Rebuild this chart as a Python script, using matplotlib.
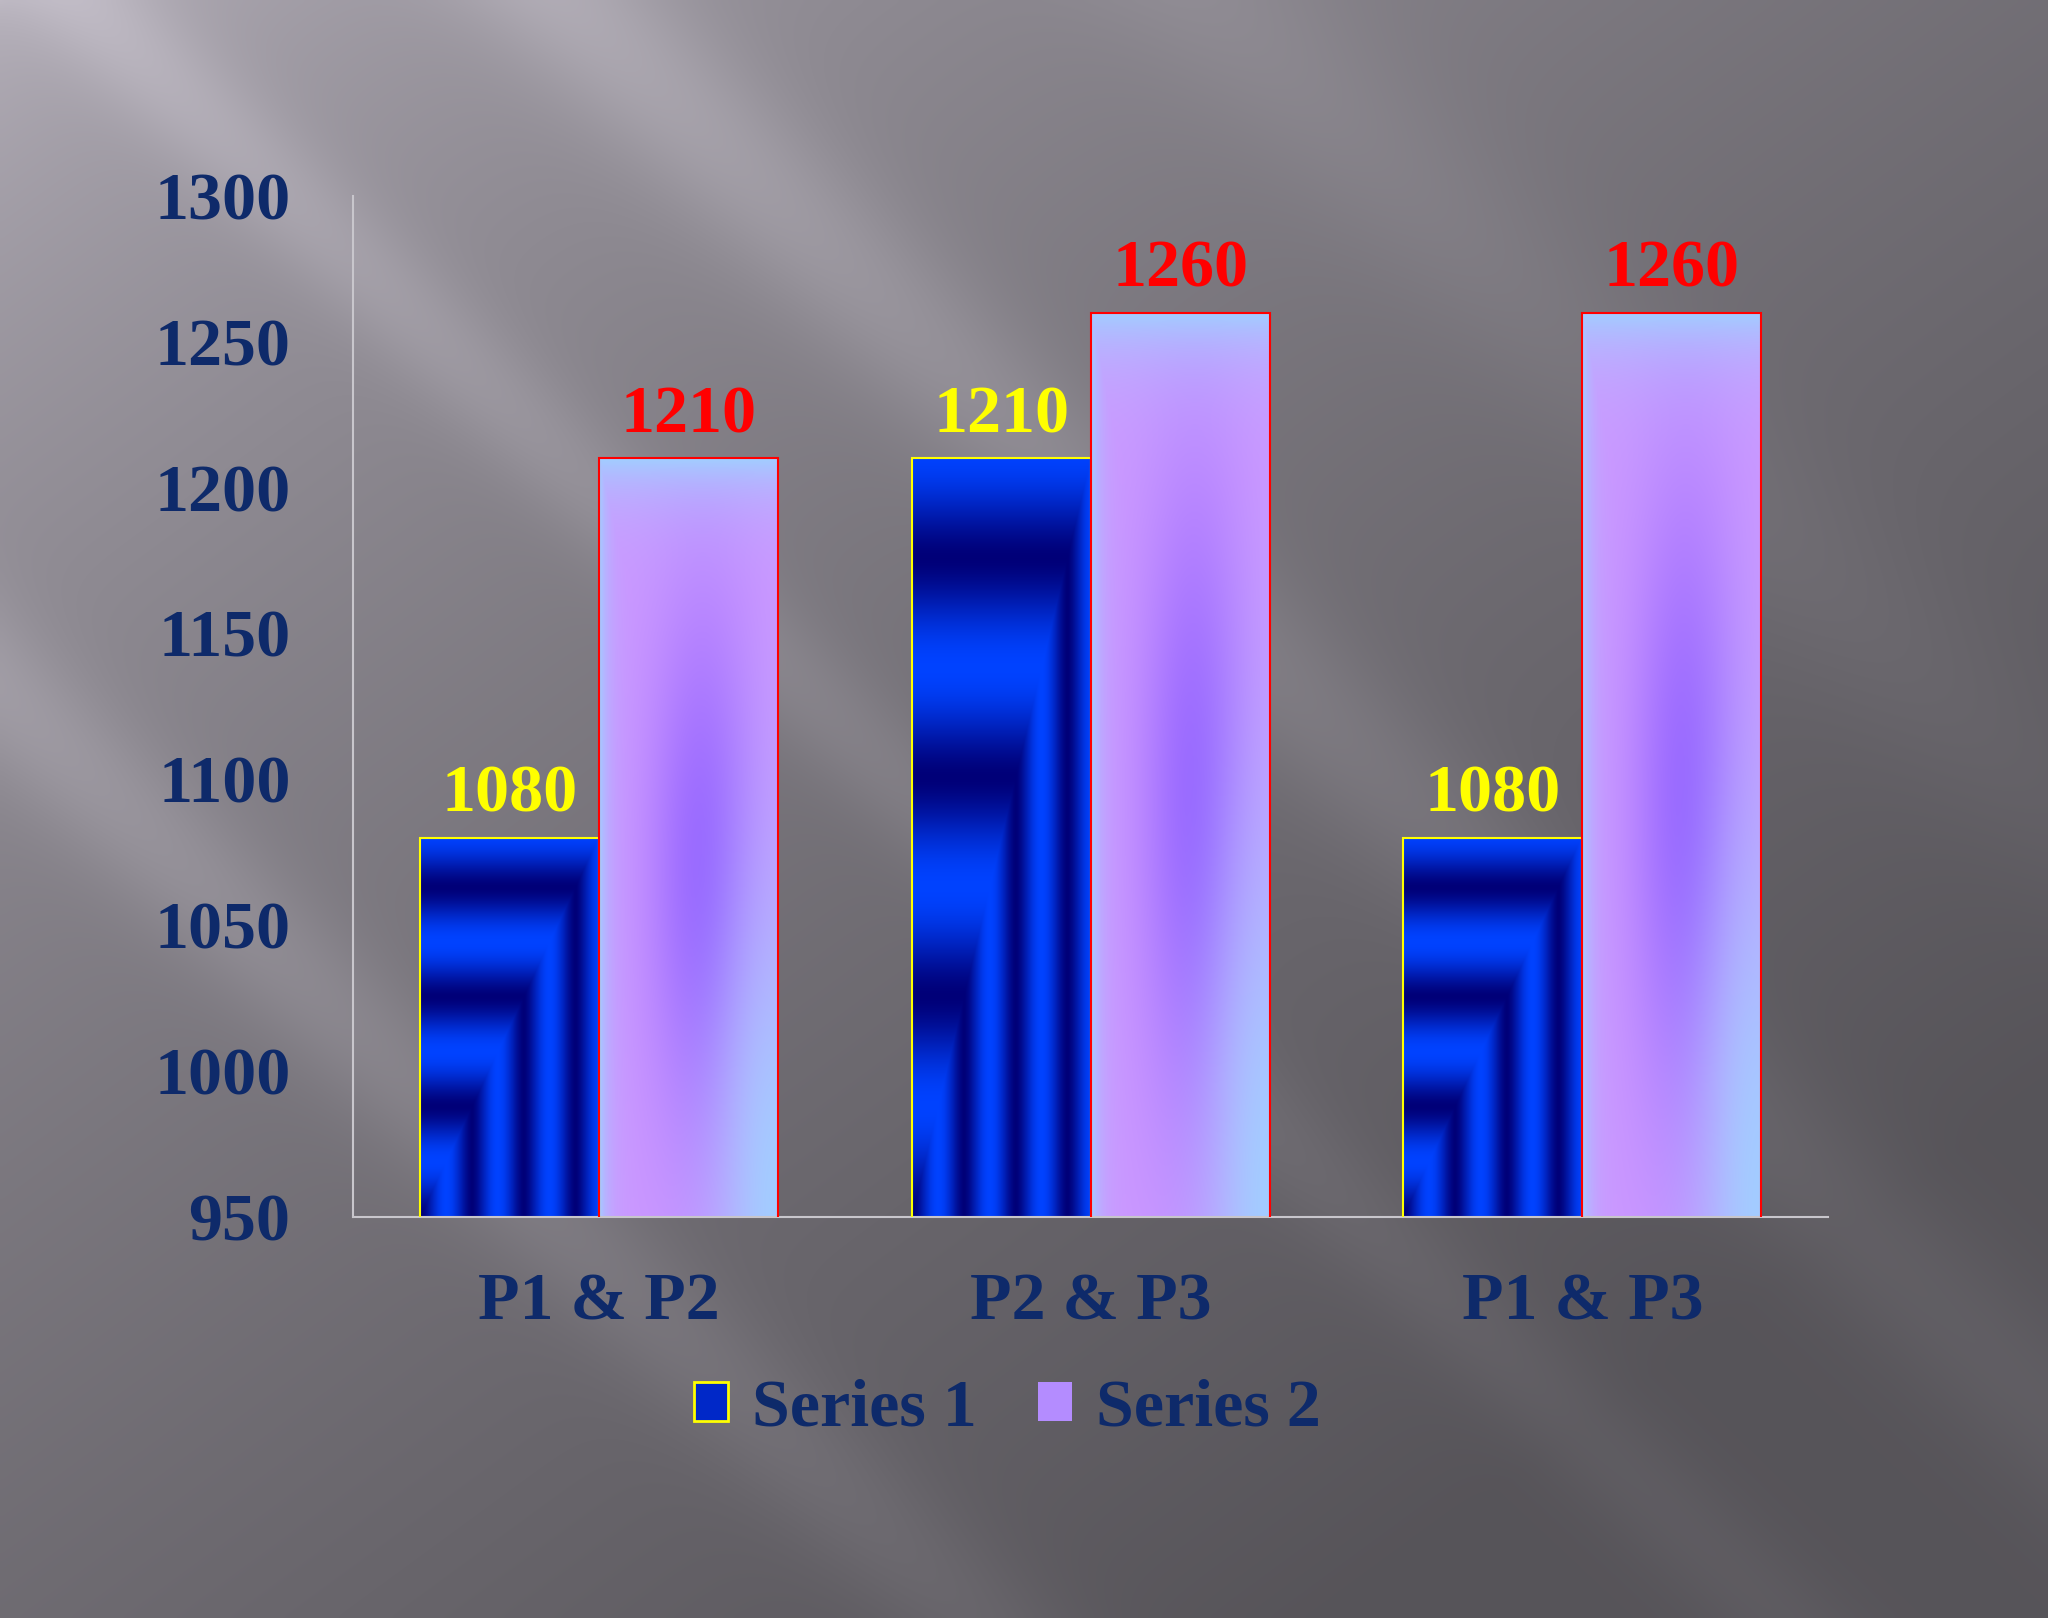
import numpy as np
import matplotlib.pyplot as plt
from matplotlib.patches import Patch

categories = ['P1 & P2', 'P2 & P3', 'P1 & P3']
series1 = [1080, 1210, 1080]
series2 = [1210, 1260, 1260]
series_names = ['Series 1', 'Series 2']
yticks = [950, 1000, 1050, 1100, 1150, 1200, 1250, 1300]

NAVY = '#0E2A6A'
FONT = ['Liberation Serif', 'DejaVu Serif']
plt.rcParams['font.family'] = FONT
plt.rcParams['font.weight'] = 'bold'

W, H = 2048, 1618
fig = plt.figure(figsize=(W / 100, H / 100), dpi=100)


# Slide background: grey diagonal gradient with a few soft light rays
def background():
    yy, xx = np.mgrid[0:1:405j, 0:1:512j]
    xa = xx * W / H
    d = np.clip((xa * 0.55 + yy * 0.75) / 1.2, 0, 1)
    light = np.array([0.72, 0.70, 0.74])
    dark = np.array([0.34, 0.33, 0.35])
    img = light + (dark - light) * (d[..., None] ** 0.6)
    q = xa - 1.05 * yy
    rays = (0.08 * np.exp(-((q - 0.35) / 0.07) ** 2) +
            0.06 * np.exp(-((q - 0.05) / 0.05) ** 2) +
            0.07 * np.exp(-((q + 0.45) / 0.06) ** 2) +
            0.04 * np.exp(-((q - 0.75) / 0.08) ** 2))
    fade = np.exp(-((xa + yy) / 1.6) ** 2)
    img = img + (rays * (0.35 + fade))[..., None] * np.array([0.9, 0.89, 0.92])
    return np.clip(img, 0, 1)


bg = fig.add_axes([0, 0, 1, 1], zorder=-10)
bg.imshow(background(), aspect='auto', extent=(0, 1, 0, 1), interpolation='bicubic')
bg.axis('off')


def blue_fill(n=200):
    v, u = np.mgrid[1:0:n * 1j, 0:1:n * 1j]
    t = np.maximum(u, v)
    f = (0.5 - 0.5 * np.cos(2 * np.pi * t / 0.29)) ** 0.8
    dark_c = np.array([0.0, 0.0, 0.47])
    bright_c = np.array([0.0, 0.26, 1.0])
    return dark_c + (bright_c - dark_c) * f[..., None]


def purple_fill(n=200):
    v, u = np.mgrid[1:0:n * 1j, 0:1:n * 1j]
    lb = np.array([0.64, 0.80, 1.0])
    ll = np.array([0.80, 0.60, 1.0])
    pu = np.array([0.60, 0.40, 1.0])
    img = np.ones_like(u)[..., None] * ll
    wp = np.exp(-((u - 0.58) / 0.3) ** 2) * np.exp(-((v - 0.45) / 0.35) ** 2)
    img = img + (pu - img) * wp[..., None]
    wb = np.maximum.reduce([np.exp(-u / 0.05),
                            np.exp(-(1 - v) / 0.05),
                            np.exp(-((1 - u) ** 2 + (v * 0.8) ** 2) / 0.12)])
    img = img + (lb - img) * wb[..., None]
    return np.clip(img, 0, 1)


ax = fig.add_axes([0.1724, 0.2479, 0.7203, 0.6310])
ax.set_facecolor('none')

x = np.arange(len(categories))
bw = 0.364
ybase = yticks[0]
bars1 = ax.bar(x - bw / 2, series1, bw, facecolor='none', edgecolor='#FFFF00', lw=1.5, zorder=3)
bars2 = ax.bar(x + bw / 2, series2, bw, facecolor='none', edgecolor='#FF0000', lw=1.5, zorder=3)

for bars, fill in ((bars1, blue_fill()), (bars2, purple_fill())):
    for b in bars:
        x0 = b.get_x()
        im = ax.imshow(fill, extent=(x0, x0 + b.get_width(), ybase, b.get_height()),
                       aspect='auto', zorder=2, interpolation='bilinear')
        im.set_clip_path(b)

for bars, vals, col in ((bars1, series1, '#FFFF00'), (bars2, series2, '#FF0000')):
    for b, v in zip(bars, vals):
        ax.annotate(str(v), (b.get_x() + b.get_width() / 2, v), xytext=(0, 19),
                    textcoords='offset points', ha='center', va='baseline',
                    fontsize=49, fontweight='bold', color=col)

ax.set_xlim(-0.5, len(categories) - 0.5)
ax.set_ylim(yticks[0], yticks[-1])
ax.set_yticks(yticks)
ax.set_xticks(x)
ax.set_xticklabels(categories)
ax.tick_params(axis='y', length=0, pad=45, labelsize=49, labelcolor=NAVY)
ax.tick_params(axis='x', length=0, pad=40, labelsize=49, labelcolor=NAVY)
for sp in ('top', 'right'):
    ax.spines[sp].set_visible(False)
for sp in ('left', 'bottom'):
    ax.spines[sp].set_color('#C8C6CC')
    ax.spines[sp].set_linewidth(1.5)

handles = [Patch(facecolor='#0028C8', edgecolor='#FFFF00', lw=2),
           Patch(facecolor='#B48CFF', edgecolor='none')]
fig.legend(handles, series_names, loc='center', bbox_to_anchor=(0.492, 0.129), ncol=2,
           frameon=False, fontsize=49, labelcolor=NAVY, handlelength=0.5,
           handleheight=0.5, handletextpad=0.35, columnspacing=0.9)

fig.savefig('out.png', dpi=100)
